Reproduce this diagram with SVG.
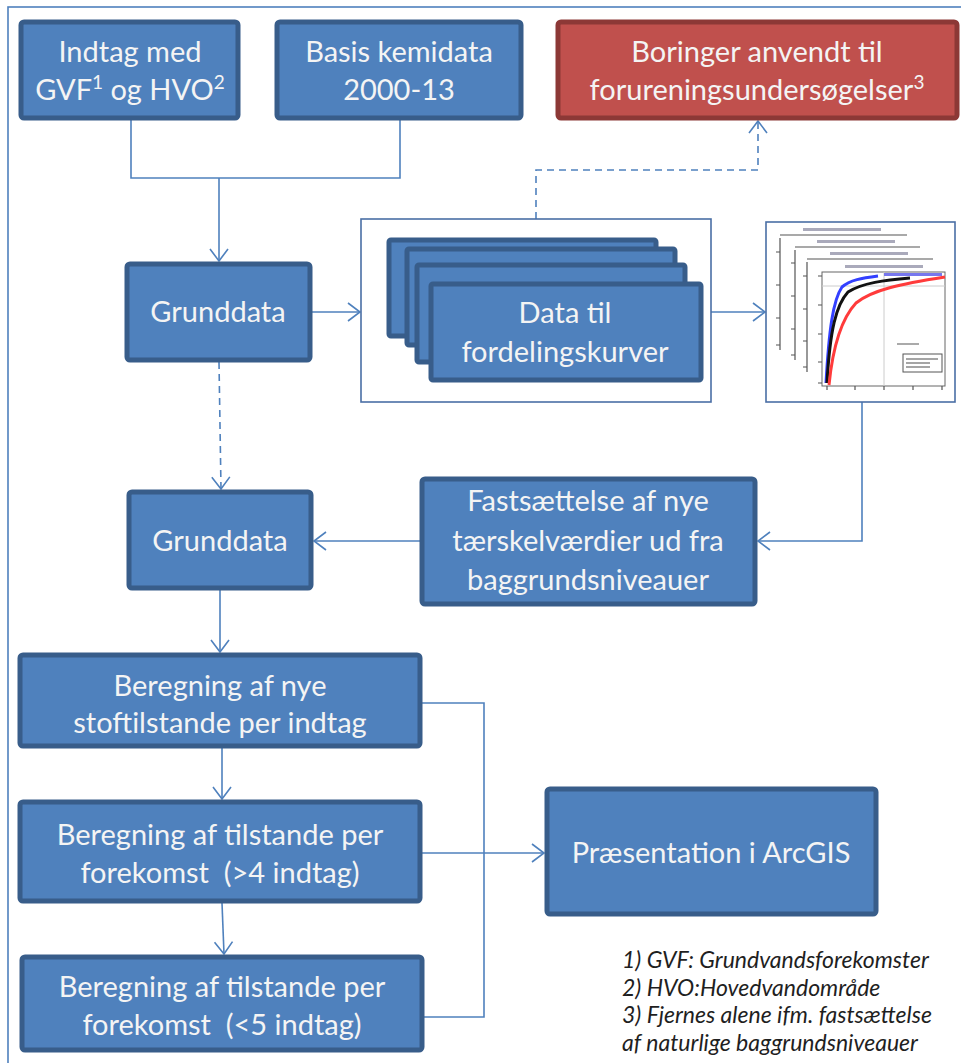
<svg xmlns="http://www.w3.org/2000/svg" width="961" height="1063" viewBox="0 0 961 1063">
<defs>
<style>
.box{fill:#4F81BD;stroke:#385D8A;stroke-width:5}
.red{fill:#C0504D;stroke:#8C3836;stroke-width:5}
.t{font-family:Lato,"Liberation Sans",sans-serif;font-size:29px;fill:#F4F4F4;text-anchor:middle}
.fn{font-family:Lato,"Liberation Sans",sans-serif;font-size:23px;font-style:italic;fill:#1F1F1F}
.c{fill:none;stroke:#4F81BD;stroke-width:1.6}
.d{stroke-dasharray:7 5}
.frame{fill:#fff;stroke:#4A6FA5;stroke-width:1.6}
.ax{fill:none;stroke:#555;stroke-width:1.2}
.bl{fill:#AAB;}
</style>
<marker id="arr" viewBox="0 0 14 20" refX="13" refY="10" markerWidth="14" markerHeight="20" orient="auto" markerUnits="userSpaceOnUse">
<path d="M1,1 L13,10 L1,19" fill="none" stroke="#4F81BD" stroke-width="1.6"/>
</marker>
</defs>
<rect width="961" height="1063" fill="#fff"/>
<rect x="8" y="7" width="1000" height="1100" fill="none" stroke="#4F81BD" stroke-width="1.6"/>

<g id="connectors">
<path class="c" d="M131,120 V178 H400 V120"/>
<path class="c" d="M219,178 V261" marker-end="url(#arr)"/>
<path class="c" d="M312,312 H360" marker-end="url(#arr)"/>
<path class="c d" d="M536,219 V170 H758 V121" marker-end="url(#arr)"/>
<path class="c" d="M711,312 H765" marker-end="url(#arr)"/>
<path class="c" d="M862,402 V541 H758" marker-end="url(#arr)"/>
<path class="c" d="M420,541 H314" marker-end="url(#arr)"/>
<path class="c d" d="M219,362 L221,489" marker-end="url(#arr)"/>
<path class="c" d="M220,590 V652" marker-end="url(#arr)"/>
<path class="c" d="M222,748 V799" marker-end="url(#arr)"/>
<path class="c" d="M222,903 L224,954" marker-end="url(#arr)"/>
<path class="c" d="M422,703 H484 V1017 H424"/>
<path class="c" d="M422,853 H544" marker-end="url(#arr)"/>
</g>

<g id="indtag">
<rect class="box" x="21" y="22" width="217" height="96" rx="3"/>
<text class="t" x="130" y="62">Indtag med</text>
<text class="t" x="130" y="100">GVF<tspan font-size="19" dy="-11">1</tspan><tspan dy="11"> og HVO</tspan><tspan font-size="19" dy="-11">2</tspan></text>
</g>

<g id="basis">
<rect class="box" x="277" y="22" width="244" height="96" rx="3"/>
<text class="t" x="399" y="62">Basis kemidata</text>
<text class="t" x="399" y="100">2000-13</text>
</g>

<g id="boringer">
<rect class="red" x="558" y="22" width="399" height="96" rx="3"/>
<text class="t" x="757" y="62">Boringer anvendt til</text>
<text class="t" x="757" y="100">forureningsundersøgelser<tspan font-size="19" dy="-11">3</tspan></text>
</g>

<g id="grunddata1">
<rect class="box" x="127" y="264" width="183" height="96" rx="3"/>
<text class="t" x="218" y="322">Grunddata</text>
</g>

<g id="datafordeling">
<rect class="frame" x="361" y="219" width="350" height="183"/>
<rect class="box" x="389" y="240" width="267" height="96" rx="2"/>
<rect class="box" x="407" y="249" width="268" height="96" rx="2"/>
<rect class="box" x="417" y="265" width="268" height="97" rx="2"/>
<rect class="box" x="431" y="284" width="270" height="96" rx="2"/>
<text class="t" x="565" y="323">Data til</text>
<text class="t" x="565" y="362">fordelingskurver</text>
</g>

<g id="chart">
<rect class="frame" x="766" y="222" width="189" height="180"/>
<rect class="bl" x="803" y="228" width="78" height="3"/>
<path class="ax" d="M780,235 H907 M780,238 V350"/>
<path class="ax" d="M776,252 H780 M776,285 H780 M776,318 H780 M776,345 H780"/>
<rect class="bl" x="817" y="240" width="78" height="3"/>
<path class="ax" d="M795,247 H920 M795,250 V360"/>
<path class="ax" d="M791,263 H795 M791,296 H795 M791,329 H795 M791,355 H795"/>
<rect class="bl" x="830" y="252" width="78" height="3"/>
<path class="ax" d="M807,259 H933 M807,262 V372"/>
<path class="ax" d="M803,276 H807 M803,309 H807 M803,341 H807 M803,367 H807"/>
<rect class="bl" x="845" y="265" width="78" height="3"/>
<rect x="822" y="272" width="123" height="114" fill="#fff" stroke="#666" stroke-width="1"/>
<path d="M822,286 H945 M884,272 V386" stroke="#ccc" stroke-width="1" fill="none"/>
<path class="ax" d="M818,276 H822 M818,305 H822 M818,334 H822 M818,362 H822 M818,383 H822"/>
<path class="ax" d="M827,386 V390 M855,386 V390 M884,386 V390 M913,386 V390 M942,386 V390"/>
<path d="M826,383 C829,330 833,300 842,287 C850,280 862,278 878,276" fill="none" stroke="#3340FF" stroke-width="3"/>
<path d="M827,383 C830,330 836,305 848,292 C862,283 885,280 910,278" fill="none" stroke="#111" stroke-width="3"/>
<path d="M829,385 C833,345 842,318 856,303 C872,290 900,284 945,277" fill="none" stroke="#FF3B3B" stroke-width="3"/>
<rect x="884" y="273" width="58" height="3" fill="#7777ee"/>
<rect x="897" y="343" width="22" height="2" fill="#aaa"/>
<rect x="903" y="354" width="39" height="18" fill="#fff" stroke="#555" stroke-width="1"/>
<path d="M906,359 H938 M906,363 H930 M906,367 H930" stroke="#888" stroke-width="1.5"/>
</g>

<g id="grunddata2">
<rect class="box" x="129" y="492" width="182" height="96" rx="3"/>
<text class="t" x="220" y="551">Grunddata</text>
</g>

<g id="fastsaettelse">
<rect class="box" x="422" y="479" width="333" height="125" rx="3"/>
<text class="t" x="588" y="511">Fastsættelse af nye</text>
<text class="t" x="588" y="551">tærskelværdier ud fra</text>
<text class="t" x="588" y="590">baggrundsniveauer</text>
</g>

<g id="beregning1">
<rect class="box" x="20" y="655" width="400" height="91" rx="3"/>
<text class="t" x="220" y="696">Beregning af nye</text>
<text class="t" x="220" y="733">stoftilstande per indtag</text>
</g>

<g id="beregning2">
<rect class="box" x="20" y="802" width="400" height="99" rx="3"/>
<text class="t" x="220" y="845">Beregning af tilstande per</text>
<text class="t" x="220" y="883" xml:space="preserve">forekomst  (&gt;4 indtag)</text>
</g>

<g id="beregning3">
<rect class="box" x="22" y="957" width="400" height="93" rx="3"/>
<text class="t" x="222" y="997">Beregning af tilstande per</text>
<text class="t" x="222" y="1035" xml:space="preserve">forekomst  (&lt;5 indtag)</text>
</g>

<g id="praesentation">
<rect class="box" x="547" y="789" width="329" height="125" rx="3"/>
<text class="t" x="711" y="863">Præsentation i ArcGIS</text>
</g>

<g id="footnotes">
<text class="fn" x="622" y="968">1) GVF: Grundvandsforekomster</text>
<text class="fn" x="622" y="996">2) HVO:Hovedvandområde</text>
<text class="fn" x="622" y="1023">3) Fjernes alene ifm. fastsættelse</text>
<text class="fn" x="622" y="1051">af naturlige baggrundsniveauer</text>
</g>
</svg>
